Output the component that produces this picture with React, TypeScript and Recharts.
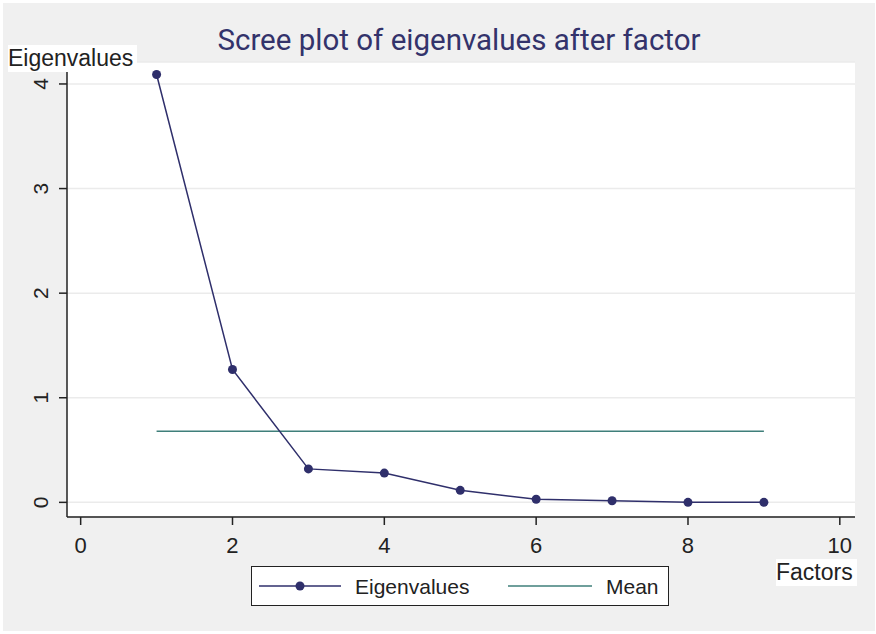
import React from "react";
import { ComposedChart, Line, XAxis, YAxis, CartesianGrid } from "recharts";

const factors = [1, 2, 3, 4, 5, 6, 7, 8, 9];
const eigenvalues = [4.09, 1.27, 0.32, 0.28, 0.115, 0.03, 0.015, 0.0, 0.0];
const meanValue = 0.68;
const xTicks = [0, 2, 4, 6, 8, 10];
const yTicks = [0, 1, 2, 3, 4];

const data = factors.map((f, i) => ({ factor: f, eig: eigenvalues[i], mean: meanValue }));

const NAVY = "#2f2f6b";
const TEAL = "#3f7f7a";
const FONT = "'Liberation Sans', Arial, sans-serif";

const YTick = (props: any) => {
  const { x, y, payload } = props;
  return (
    <text
      x={x - 11}
      y={y}
      transform={`rotate(-90, ${x - 11}, ${y})`}
      textAnchor="middle"
      fontSize={21}
      fontFamily={FONT}
      fill="#222"
    >
      {payload.value}
    </text>
  );
};

const LegendBox = () => (
  <div
    style={{
      position: "absolute",
      left: 251,
      top: 566,
      width: 416,
      height: 38,
      background: "#fff",
      border: "1px solid #222",
    }}
  >
    <svg width={416} height={38} style={{ position: "absolute", left: 0, top: 0 }}>
      <line x1={7} x2={89} y1={19} y2={19} stroke={NAVY} strokeWidth={1.5} />
      <circle cx={48} cy={19} r={4.5} fill={NAVY} />
      <line x1={256} x2={340} y1={19} y2={19} stroke={TEAL} strokeWidth={1.5} />
      <text x={103} y={27} fontSize={21} fontFamily={FONT} fill="#222">Eigenvalues</text>
      <text x={354} y={27} fontSize={21} fontFamily={FONT} fill="#222">Mean</text>
    </svg>
  </div>
);

export default function App() {
  return (
    <div style={{ position: "absolute", left: 0, top: 0, width: 876, height: 634, background: "#fff" }}>
      <div style={{ position: "absolute", left: 3, top: 3, width: 872, height: 628, background: "#f0f0f0" }} />
      <div style={{ position: "absolute", left: 0, top: 0 }}>
        <ComposedChart
          width={876}
          height={634}
          data={data}
          margin={{ top: 62, right: 21, bottom: 77, left: 0 }}
        >
          <CartesianGrid horizontal vertical={false} fill="#ffffff" stroke="#ebebeb" strokeWidth={1.5} />
          <XAxis
            dataKey="factor"
            type="number"
            domain={[-0.18, 10.2]}
            ticks={xTicks}
            allowDataOverflow
            height={40}
            tickSize={8}
            tickMargin={12}
            axisLine={{ stroke: "#222", strokeWidth: 1.5 }}
            tickLine={{ stroke: "#222", strokeWidth: 1.5 }}
            tick={{ fontSize: 22, fontFamily: FONT, fill: "#222" }}
          />
          <YAxis
            type="number"
            domain={[-0.14, 4.21]}
            ticks={yTicks}
            allowDataOverflow
            width={67}
            tickSize={8}
            tickMargin={0}
            axisLine={{ stroke: "#222", strokeWidth: 1.5 }}
            tickLine={{ stroke: "#222", strokeWidth: 1.5 }}
            tick={<YTick />}
          />
          <Line
            dataKey="mean"
            stroke={TEAL}
            strokeWidth={1.5}
            dot={false}
            isAnimationActive={false}
          />
          <Line
            dataKey="eig"
            stroke={NAVY}
            strokeWidth={1.5}
            dot={{ r: 4.5, fill: NAVY, stroke: NAVY, strokeWidth: 0 }}
            isAnimationActive={false}
          />
        </ComposedChart>
      </div>
      <LegendBox />
      <div
        style={{
          position: "absolute",
          left: 0,
          top: 23,
          width: 918,
          textAlign: "center",
          fontFamily: "Roboto, 'Liberation Sans', Arial, sans-serif",
          fontSize: 29.5,
          color: "#33336b",
          whiteSpace: "nowrap",
        }}
      >
        Scree plot of eigenvalues after factor
      </div>
      <div
        style={{
          position: "absolute",
          left: 8,
          top: 45,
          padding: "0 4px 0 0",
          height: 27,
          lineHeight: "27px",
          background: "#fff",
          fontFamily: FONT,
          fontSize: 23,
          color: "#222",
        }}
      >
        Eigenvalues
      </div>
      <div
        style={{
          position: "absolute",
          left: 776,
          top: 559,
          padding: "0 4px 0 0",
          height: 27,
          lineHeight: "27px",
          background: "#fff",
          fontFamily: FONT,
          fontSize: 23,
          color: "#222",
        }}
      >
        Factors
      </div>
    </div>
  );
}
